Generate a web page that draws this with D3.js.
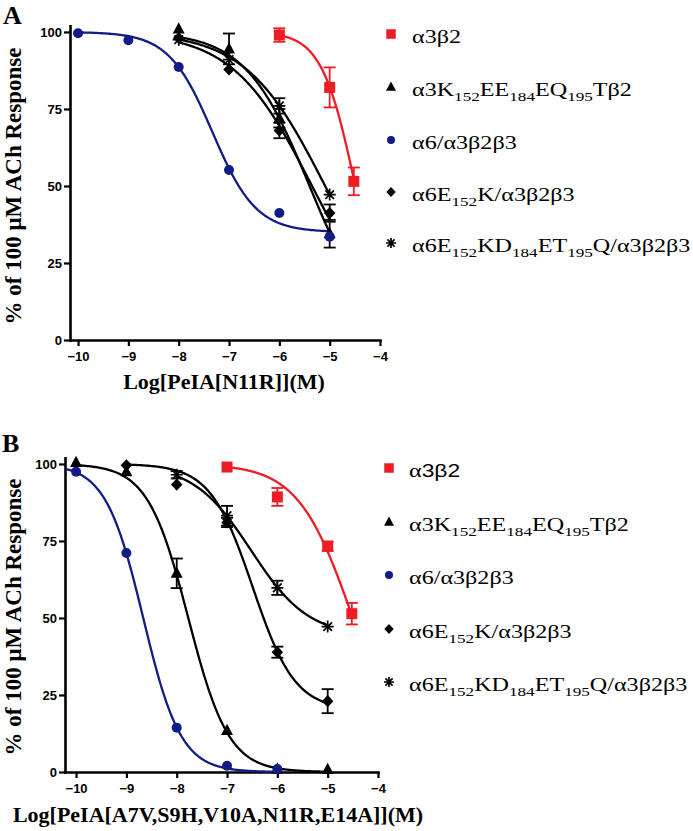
<!DOCTYPE html>
<html><head><meta charset="utf-8">
<script src="https://cdn.jsdelivr.net/npm/d3@7"></script>
<style>body{margin:0;background:#fff}svg{display:block}</style>
</head><body>
<svg id="chart" width="693" height="831"></svg>
<script>
// ---------- shared labels ----------
const xTickValues = [-10, -9, -8, -7, -6, -5, -4];
const yTickValues = [0, 25, 50, 75, 100];
const seriesKeys = ["a3b2", "a3K", "a6", "a6E", "a6EKD"];
const legendLabelsA = ["α3β2", "α3K_{152}EE_{184}EQ_{195}Tβ2", "α6/α3β2β3", "α6E_{152}K/α3β2β3", "α6E_{152}KD_{184}ET_{195}Q/α3β2β3"];
const legendLabelsB = ["α~{3β2}", "α3K_{152}EE_{184}EQ_{195}Tβ2", "α6/α3β2β3", "α6E_{152}K/α3β2β3", "α6E_{152}KD_{184}ET_{195}Q/α3β2β3"];
const yTitle = "% of 100 μM ACh Response";
const xTitleA = "Log[PeIA[N11R]](M)";
const xTitleB = "Log[PeIA[A7V,S9H,V10A,N11R,E14A]](M)";

// ---------- Panel A data (log M, % response, SEM) ----------
const A_a3b2_x = [-6, -5, -4.52],            A_a3b2_y = [99, 82, 51.5],               A_a3b2_e = [2.2, 6.5, 4.5];
const A_a3K_x = [-8, -7, -6, -5],             A_a3K_y = [101, 94.5, 72, 34.5],          A_a3K_e = [0, 5, 3, 4.5];
const A_a6_x = [-10, -9, -8, -7, -6, -5],     A_a6_y = [99.6, 97.3, 88.6, 55.2, 41.2, 33.5], A_a6_e = [0, 0, 0, 0, 0, 0];
const A_a6E_x = [-8, -7, -6, -5],             A_a6E_y = [98, 87.8, 68, 41.2],           A_a6E_e = [0, 0, 2.5, 2.8];
const A_a6EKD_x = [-8, -7, -6, -5],           A_a6EKD_y = [97.5, 91, 76, 47.2],         A_a6EKD_e = [0, 0, 2.5, 0];
// fitted curves: [top, bottom, logIC50, hill, xStart, xEnd]
const A_fit_a3b2 = [100, 0, -4.49, 1.3, -6, -4.52];
const A_fit_a3K = [100, 0, -5.40, 0.68, -8, -5];
const A_fit_a6 = [100, 35, -7.33, 1.0, -10, -5];
const A_fit_a6E = [100, 0, -5.35, 0.55, -8, -5];
const A_fit_a6EKD = [100, 0, -5.09, 0.55, -8, -5];

// ---------- Panel B data ----------
const B_a3b2_x = [-7, -6, -5, -4.52],         B_a3b2_y = [99, 89.3, 73.3, 51.4],        B_a3b2_e = [0, 2.9, 1.5, 3.5];
const B_a3K_x = [-10, -9, -8, -7, -6, -5],    B_a3K_y = [100.5, 97.5, 64.5, 13.5, 1, 0.8], B_a3K_e = [0, 0, 4.8, 0, 0, 0];
const B_a6_x = [-10, -9, -8, -7, -6],         B_a6_y = [97.5, 71.1, 14.4, 2, 1],         B_a6_e = [0, 0, 0, 0, 0];
const B_a6E_x = [-9, -8, -7, -6, -5],         B_a6E_y = [99.6, 93.3, 81, 38.9, 23],      B_a6E_e = [0, 0, 1.5, 1.8, 3.9];
const B_a6EKD_x = [-8, -7, -6, -5],           B_a6EKD_y = [96.5, 83.2, 59.8, 47.2],      B_a6EKD_e = [1.2, 3.2, 2.3, 0];
const B_fit_a3b2 = [100, 0, -4.50, 0.8, -7, -4.52];
const B_fit_a3K = [100, 0, -7.77, 1.08, -10, -5];
const B_fit_a6 = [100, 0, -8.665, 1.16, -10.2, -6];
const B_fit_a6E = [100, 20, -6.49, 1.03, -9, -5];
const B_fit_a6EKD = [100, 44, -6.525, 0.76, -8, -5];

// ---------- styles ----------
const seriesColors = {a3b2: "#ee1c24", a3K: "#000", a6: "#121c86", a6E: "#000", a6EKD: "#000"};
const seriesSymbols = {a3b2: "square", a3K: "triangle", a6: "circle", a6E: "diamond", a6EKD: "asterisk"};
const drawOrder = ["a3b2", "a3K", "a6E", "a6EKD", "a6"];
const SERIF = "'Liberation Serif','Times New Roman',serif";
const SANS = "'Liberation Sans',Arial,sans-serif";

const svg = d3.select("#chart");

function symbolPath(type, s) {
  const p = d3.path();
  if (type === "square") { p.rect(-s/2, -s/2, s, s); }
  else if (type === "circle") { p.arc(0, 0, s/2, 0, 2*Math.PI); }
  else if (type === "triangle") { const h = s*0.9; p.moveTo(0, -h*0.62); p.lineTo(s/2, h*0.42); p.lineTo(-s/2, h*0.42); p.closePath(); }
  else if (type === "diamond") { const r = s*0.55; p.moveTo(0, -r); p.lineTo(r*0.95, 0); p.lineTo(0, r); p.lineTo(-r*0.95, 0); p.closePath(); }
  else if (type === "asterisk") { const r = s/2; const d = r*0.72;
    p.moveTo(0, -r); p.lineTo(0, r); p.moveTo(-r, 0); p.lineTo(r, 0);
    p.moveTo(-d, -d); p.lineTo(d, d); p.moveTo(-d, d); p.lineTo(d, -d); }
  return p.toString();
}
function drawSymbol(g, type, color, x, y, s) {
  const path = g.append("path").attr("d", symbolPath(type, s)).attr("transform", `translate(${x},${y})`);
  if (type === "asterisk") path.attr("fill", "none").attr("stroke", color).attr("stroke-width", 1.7);
  else path.attr("fill", color);
}

function drawPanel(cfg) {
  const x = d3.scaleLinear().domain(cfg.xDomain).range(cfg.xRange);
  const y = d3.scaleLinear().domain([0, 102]).range(cfg.yRange);
  const g = svg.append("g");

  // axes
  const xAxis = d3.axisBottom(x).tickValues(xTickValues).tickSize(6).tickSizeOuter(0).tickPadding(6).tickFormat(d3.format("d"));
  const yAxis = d3.axisLeft(y).tickValues(yTickValues).tickSize(6).tickSizeOuter(0).tickPadding(2).tickFormat(d3.format("d"));
  const ax = g.append("g").attr("transform", `translate(0,${y(0)})`).call(xAxis);
  const ay = g.append("g").attr("transform", `translate(${x.range()[0]},0)`).call(yAxis);
  [ax, ay].forEach(a => {
    a.select(".domain").attr("stroke", "#000").attr("stroke-width", 2.6).attr("stroke-linecap", "square");
    a.selectAll(".tick line").attr("stroke", "#000").attr("stroke-width", 2.2);
    a.selectAll(".tick text").attr("fill", "#000").style("font-family", SANS).style("font-weight", "bold").style("font-size", "13px");
  });

  // titles
  g.append("text").attr("x", cfg.panelLabel[1]).attr("y", cfg.panelLabel[2]).text(cfg.panelLabel[0])
    .style("font-family", SERIF).style("font-weight", "bold").style("font-size", "26px");
  g.append("text").attr("transform", `translate(${cfg.yTitlePos[0]},${cfg.yTitlePos[1]}) rotate(-90)`)
    .attr("text-anchor", "middle").text(yTitle)
    .style("font-family", SERIF).style("font-weight", "bold").style("font-size", "23px");
  g.append("text").attr("x", cfg.xTitlePos[0]).attr("y", cfg.xTitlePos[1]).attr("text-anchor", "middle").text(cfg.xTitle)
    .style("font-family", SERIF).style("font-weight", "bold").style("font-size", "22px");

  // fitted curves
  const line = d3.line().x(d => x(d[0])).y(d => y(d[1])).curve(d3.curveLinear);
  seriesKeys.forEach(k => {
    const [top, bottom, ic, hill, x0, x1] = cfg.fits[k];
    const pts = d3.range(0, 201).map(i => {
      const xv = x0 + (x1 - x0) * i / 200;
      return [xv, bottom + (top - bottom) / (1 + Math.pow(10, (xv - ic) * hill))];
    });
    g.append("path").attr("d", line(pts)).attr("fill", "none")
      .attr("stroke", seriesColors[k]).attr("stroke-width", 2.3);
  });

  // error bars and markers
  drawOrder.forEach(k => {
    const d = cfg.data[k];
    const col = seriesColors[k];
    d.x.forEach((xv, i) => {
      const e = d.e[i];
      if (e > 0) {
        const cx = x(xv), yt = y(d.y[i] + e), yb = y(d.y[i] - e);
        g.append("line").attr("x1", cx).attr("x2", cx).attr("y1", yt).attr("y2", yb).attr("stroke", col).attr("stroke-width", 1.8);
        [yt, yb].forEach(yy => g.append("line").attr("x1", cx - 6).attr("x2", cx + 6).attr("y1", yy).attr("y2", yy).attr("stroke", col).attr("stroke-width", 1.8));
      }
      const sizes = {square: 11, circle: 10, triangle: 12, diamond: 11, asterisk: 12};
      drawSymbol(g, seriesSymbols[k], col, x(xv), y(d.y[i]), sizes[seriesSymbols[k]]);
    });
  });

  // legend
  const lsizes = {square: 9.5, circle: 8, triangle: 10, diamond: 9, asterisk: 10};
  cfg.legendLabels.forEach((lab, i) => {
    const k = seriesKeys[i];
    const ly = cfg.legendY[i];
    drawSymbol(g, seriesSymbols[k], seriesColors[k], cfg.legendX[0], ly, lsizes[seriesSymbols[k]]);
    const t = g.append("text").attr("transform", `translate(${cfg.legendX[1]},${ly + 9}) scale(1.27,1)`)
      .style("font-family", SERIF).style("font-size", "19px").attr("fill", "#000");
    const tokens = lab.match(/(_\{[^}]*\}|~\{[^}]*\}|[^_~]+)/g);
    let shift = 0;
    tokens.forEach(tok => {
      if (tok.startsWith("_{")) {
        t.append("tspan").attr("dy", 4.5 - shift).style("font-size", "13.5px").text(tok.slice(2, -1));
        shift = 4.5;
      } else if (tok.startsWith("~{")) {
        t.append("tspan").attr("dy", -shift).style("font-family", SANS).style("font-size", "18px").text(tok.slice(2, -1));
        shift = 0;
      } else {
        t.append("tspan").attr("dy", -shift).text(tok);
        shift = 0;
      }
    });
  });
}

drawPanel({
  xDomain: [-10.16, -4], xRange: [70, 380], yRange: [340, 25.8],
  panelLabel: ["A", 3, 24], yTitlePos: [21, 186], xTitlePos: [224, 389], xTitle: xTitleA,
  legendX: [391, 412], legendY: [34, 87, 140, 192, 243], legendLabels: legendLabelsA,
  data: {
    a3b2: {x: A_a3b2_x, y: A_a3b2_y, e: A_a3b2_e}, a3K: {x: A_a3K_x, y: A_a3K_y, e: A_a3K_e},
    a6: {x: A_a6_x, y: A_a6_y, e: A_a6_e}, a6E: {x: A_a6E_x, y: A_a6E_y, e: A_a6E_e},
    a6EKD: {x: A_a6EKD_x, y: A_a6EKD_y, e: A_a6EKD_e}
  },
  fits: {a3b2: A_fit_a3b2, a3K: A_fit_a3K, a6: A_fit_a6, a6E: A_fit_a6E, a6EKD: A_fit_a6EKD}
});

drawPanel({
  xDomain: [-10.22, -4], xRange: [65, 378], yRange: [772, 457.8],
  panelLabel: ["B", 2, 452], yTitlePos: [21, 617], xTitlePos: [218, 822], xTitle: xTitleB,
  legendX: [389, 409], legendY: [468, 522, 575, 629, 682], legendLabels: legendLabelsB,
  data: {
    a3b2: {x: B_a3b2_x, y: B_a3b2_y, e: B_a3b2_e}, a3K: {x: B_a3K_x, y: B_a3K_y, e: B_a3K_e},
    a6: {x: B_a6_x, y: B_a6_y, e: B_a6_e}, a6E: {x: B_a6E_x, y: B_a6E_y, e: B_a6E_e},
    a6EKD: {x: B_a6EKD_x, y: B_a6EKD_y, e: B_a6EKD_e}
  },
  fits: {a3b2: B_fit_a3b2, a3K: B_fit_a3K, a6: B_fit_a6, a6E: B_fit_a6E, a6EKD: B_fit_a6EKD}
});
</script>
</body></html>
